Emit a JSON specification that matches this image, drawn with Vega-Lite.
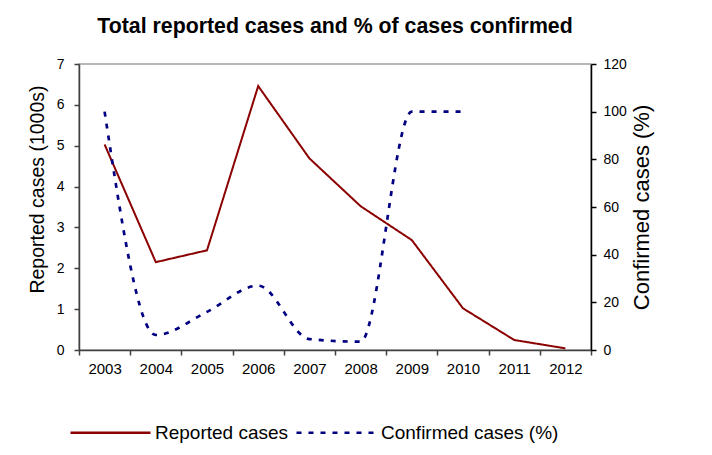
{
  "$schema": "https://vega.github.io/schema/vega-lite/v6.json",
  "width": 512,
  "height": 286,
  "autosize": {"type": "none"},
  "padding": {"left": 79, "top": 64, "right": 121, "bottom": 105},
  "background": "white",
  "title": {
    "text": "Total reported cases and % of cases confirmed",
    "font": "Liberation Sans",
    "fontSize": 21.3,
    "fontWeight": "bold",
    "color": "black",
    "anchor": "middle",
    "offset": 20
  },
  "config": {
    "view": {"stroke": "#a0a0a0", "strokeWidth": 1.5},
    "font": "Liberation Sans",
    "axis": {
      "labelFont": "Liberation Sans",
      "titleFont": "Liberation Sans",
      "labelFontSize": 14,
      "titleFontSize": 19.5,
      "titleFontWeight": "normal",
      "labelColor": "black",
      "titleColor": "black",
      "grid": false,
      "tickSize": 5,
      "domainWidth": 1.5,
      "tickWidth": 1.5
    }
  },
  "data": {
    "values": [
      {"year": "2003", "series": "Reported cases", "value": 5.03},
      {"year": "2004", "series": "Reported cases", "value": 2.15},
      {"year": "2005", "series": "Reported cases", "value": 2.44},
      {"year": "2006", "series": "Reported cases", "value": 6.46},
      {"year": "2007", "series": "Reported cases", "value": 4.69},
      {"year": "2008", "series": "Reported cases", "value": 3.52},
      {"year": "2009", "series": "Reported cases", "value": 2.69},
      {"year": "2010", "series": "Reported cases", "value": 1.02},
      {"year": "2011", "series": "Reported cases", "value": 0.245},
      {"year": "2012", "series": "Reported cases", "value": 0.04},
      {"year": "2003", "series": "Confirmed cases (%)", "value": 100},
      {"year": "2004", "series": "Confirmed cases (%)", "value": 6.3},
      {"year": "2005", "series": "Confirmed cases (%)", "value": 16},
      {"year": "2006", "series": "Confirmed cases (%)", "value": 27},
      {"year": "2007", "series": "Confirmed cases (%)", "value": 4.6},
      {"year": "2008", "series": "Confirmed cases (%)", "value": 3.5},
      {"year": "2009", "series": "Confirmed cases (%)", "value": 100},
      {"year": "2010", "series": "Confirmed cases (%)", "value": 100}
    ]
  },
  "encoding": {
    "x": {
      "field": "year",
      "type": "ordinal",
      "scale": {"type": "band", "paddingInner": 0, "paddingOuter": 0},
      "axis": {
        "title": null,
        "labelAngle": 0,
        "tickBand": "extent",
        "domainColor": "#404040",
        "tickColor": "#404040",
        "labelFontSize": 15,
        "labelPadding": 6
      }
    },
    "color": {
      "field": "series",
      "type": "nominal",
      "scale": {
        "domain": ["Reported cases", "Confirmed cases (%)"],
        "range": ["#8b0000", "#000080"]
      },
      "legend": {
        "title": null,
        "orient": "none",
        "direction": "horizontal",
        "legendX": -10,
        "legendY": 327,
        "symbolType": "stroke",
        "symbolSize": 6400,
        "symbolStrokeWidth": 2.5,
        "labelFontSize": 19,
        "labelFont": "Liberation Sans",
        "labelColor": "black",
        "labelLimit": 400,
        "labelOffset": 3,
        "columnPadding": 2
      }
    },
    "strokeDash": {
      "field": "series",
      "type": "nominal",
      "scale": {
        "domain": ["Reported cases", "Confirmed cases (%)"],
        "range": [[1, 0], [5, 7]]
      },
      "legend": {
        "title": null,
        "orient": "none",
        "direction": "horizontal",
        "legendX": -10,
        "legendY": 327,
        "symbolType": "stroke",
        "symbolSize": 6400,
        "symbolStrokeWidth": 2.5,
        "labelFontSize": 19,
        "labelFont": "Liberation Sans",
        "labelColor": "black",
        "labelLimit": 400,
        "labelOffset": 3,
        "columnPadding": 2
      }
    }
  },
  "layer": [
    {
      "transform": [{"filter": "datum.series == 'Reported cases'"}],
      "mark": {"type": "line", "strokeWidth": 2},
      "encoding": {
        "y": {
          "field": "value",
          "type": "quantitative",
          "scale": {"domain": [0, 7], "nice": false},
          "axis": {
            "title": "Reported cases (1000s)",
            "values": [0, 1, 2, 3, 4, 5, 6, 7],
            "labelOverlap": false,
            "domainColor": "#404040",
            "tickColor": "#404040",
            "labelPadding": 10,
            "titlePadding": 9,
            "titleY": 125
          }
        }
      }
    },
    {
      "transform": [{"filter": "datum.series == 'Confirmed cases (%)'"}],
      "mark": {"type": "line", "strokeWidth": 2.7, "interpolate": "monotone"},
      "encoding": {
        "y": {
          "field": "value",
          "type": "quantitative",
          "scale": {"domain": [0, 120], "nice": false},
          "axis": {
            "orient": "right",
            "title": "Confirmed cases (%)",
            "titleAngle": 270,
            "titleFontSize": 22,
            "values": [0, 20, 40, 60, 80, 100, 120],
            "domainColor": "black",
            "tickColor": "black",
            "labelPadding": 7,
            "titlePadding": 27
          }
        }
      }
    }
  ],
  "resolve": {"scale": {"y": "independent"}}
}
